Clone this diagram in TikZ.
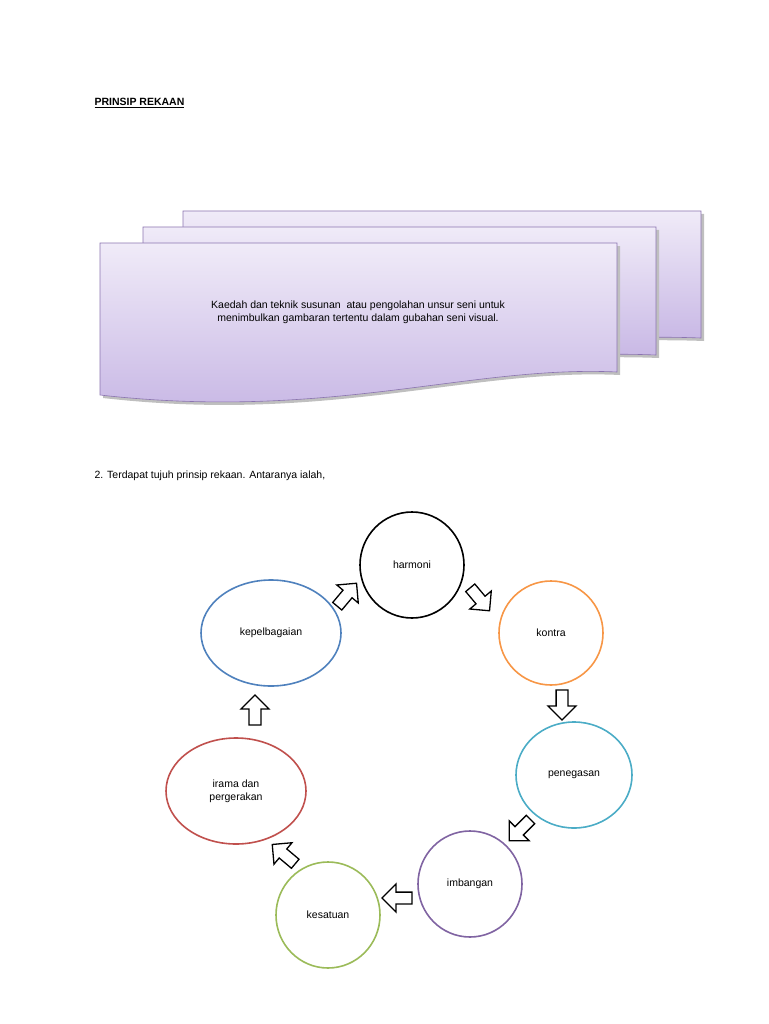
\documentclass[tikz,border=0pt]{standalone}
\usepackage{fontspec}
\setmainfont{Liberation Sans}
\usetikzlibrary{positioning}
\usetikzlibrary{shapes.arrows,shapes.geometric}

\definecolor{cOrange}{HTML}{F79646}
\definecolor{cTeal}{HTML}{4BACC6}
\definecolor{cPurple}{HTML}{8064A2}
\definecolor{cGreen}{HTML}{9BBB59}
\definecolor{cRed}{HTML}{C0504D}
\definecolor{cBlue}{HTML}{4F81BD}
\definecolor{lilacTop}{HTML}{F0EBF8}
\definecolor{lilacBot}{HTML}{C6B5E4}
\definecolor{lilacLine}{HTML}{8B74B0}

\begin{document}
\begin{tikzpicture}[%
  x=1pt, y=-1pt,
  font=\fontsize{10.5}{13}\selectfont,
  prinsip/.style={ellipse, draw, line width=1.6pt, align=center, inner sep=0pt},
  blok/.style={single arrow, draw, line width=1.3pt, fill=white,
    minimum height=30pt, minimum width=28pt, single arrow head extend=5pt,
    inner sep=3pt},
  helai/.style={draw=lilacLine, line width=0.6pt, top color=lilacTop, bottom color=lilacBot},
]
  \useasboundingbox (0,0) rectangle (768,1024);

  \node[anchor=base west, font=\fontsize{10.5}{13}\selectfont\bfseries] (tajuk) at (91,106)
    {\underline{PRINSIP REKAAN}};

  % helaian bertindih
  \fill[black!25] (186,214) -- (704,214) -- (704,341) .. controls (600,337) and (450,350) .. (186,345) -- cycle;
  \draw[helai] (183,211) -- (701,211) -- (701,338) .. controls (600,334) and (450,347) .. (183,342) -- cycle;
  \fill[black!25] (146,230) -- (659,230) -- (659,358) .. controls (560,354) and (420,367) .. (146,362) -- cycle;
  \draw[helai] (143,227) -- (656,227) -- (656,355) .. controls (560,351) and (420,364) .. (143,359) -- cycle;
  \fill[black!25] (103,246) -- (620,246) -- (620,375) .. controls (470,368) and (330,424) .. (103,398) -- cycle;
  \draw[helai] (100,243) -- (617,243) -- (617,372) .. controls (470,365) and (330,421) .. (100,395) -- cycle;
  \node[align=center] (takrif) at (358,312)
    {Kaedah dan teknik susunan\ \ atau pengolahan unsur seni untuk\\menimbulkan gambaran tertentu dalam gubahan seni visual.};

  \node[anchor=base west] (ayat) at (91,478) {2. Terdapat tujuh prinsip rekaan. Antaranya ialah,};

  % bulatan prinsip
  \node[prinsip, minimum width=104pt, minimum height=106pt] (harmoni) at (412,565) {harmoni};
  \node[prinsip, draw=cOrange, minimum width=104pt, minimum height=104pt] (kontra) at (551,633) {kontra};
  \node[prinsip, draw=cTeal, minimum width=116pt, minimum height=106pt] (penegasan) at (574,775) {penegasan};
  \node[prinsip, draw=cPurple, minimum width=104pt, minimum height=106pt] (imbangan) at (470,884) {imbangan};
  \node[prinsip, draw=cGreen, minimum width=104pt, minimum height=106pt] (kesatuan) at (328,915) {kesatuan};
  \node[prinsip, draw=cRed, minimum width=140pt, minimum height=106pt] (irama) at (236,791) {irama dan\\pergerakan};
  \node[prinsip, draw=cBlue, minimum width=140pt, minimum height=106pt] (kepelbagaian) at (271,633) {kepelbagaian};

  % anak panah blok
  \node[blok, rotate=-50] (a1) at (478,597) {};
  \node[blok, rotate=-90] (a2) at (562,702) {};
  \node[blok, rotate=-135] (a3) at (522,828) {};
  \node[blok, rotate=180] (a4) at (400,898) {};
  \node[blok, rotate=140] (a5) at (286,856) {};
  \node[blok, rotate=90] (a6) at (255,713) {};
  \node[blok, rotate=50] (a7) at (345,597) {};
\end{tikzpicture}
\end{document}
